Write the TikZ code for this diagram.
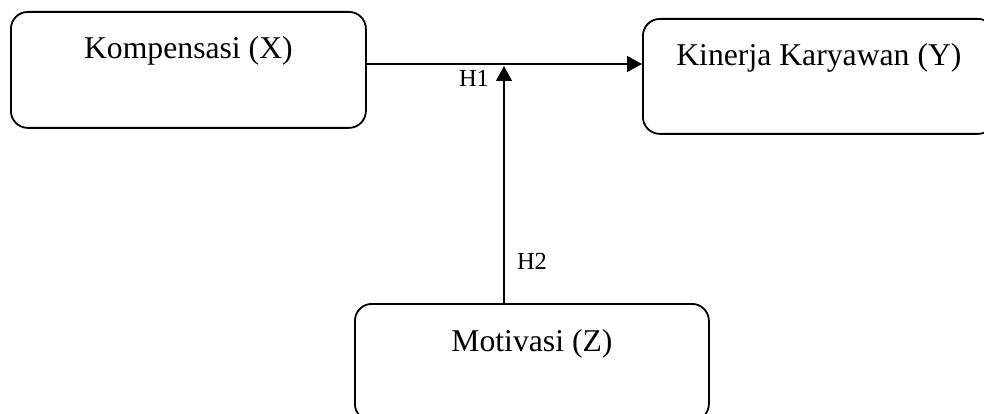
\documentclass[tikz,border=0pt]{standalone}
\usepackage{fontspec}
\setmainfont{Liberation Serif}
\usetikzlibrary{arrows.meta}
\begin{document}
\begin{tikzpicture}[x=1pt,y=-1pt,
  box/.style={draw, line width=1.8pt, rounded corners=17pt, inner sep=0pt,
    font=\fontsize{31.7}{36}\selectfont, anchor=north west},
  lbl/.style={font=\fontsize{24.5}{28}\selectfont, inner sep=0pt},
  conn/.style={line width=1.3pt},
  arr/.style={conn, -{Triangle[length=15pt,width=16pt]}}]
\clip (0,0) rectangle (984,414);
\node[box, minimum width=355pt, text height=47pt, text depth=69pt] (X) at (10,11) {Kompensasi (X)};
\node[box, minimum width=352pt, text height=47pt, text depth=68pt] (Y) at (642,18) {Kinerja Karyawan (Y)};
\node[box, minimum width=354pt, text height=48pt, text depth=69pt] (Z) at (354,303) {Motivasi (Z)};
\coordinate (h) at (0,64);
\coordinate (t) at (504,66);
\draw[arr] (X.east |- h) -- (Y.west |- h);
\draw[arr] (Z.north -| t) -- (t);
\node[lbl] (h1) at (474,78) {H1};
\node[lbl] (h2) at (532,261) {H2};
\end{tikzpicture}
\end{document}
